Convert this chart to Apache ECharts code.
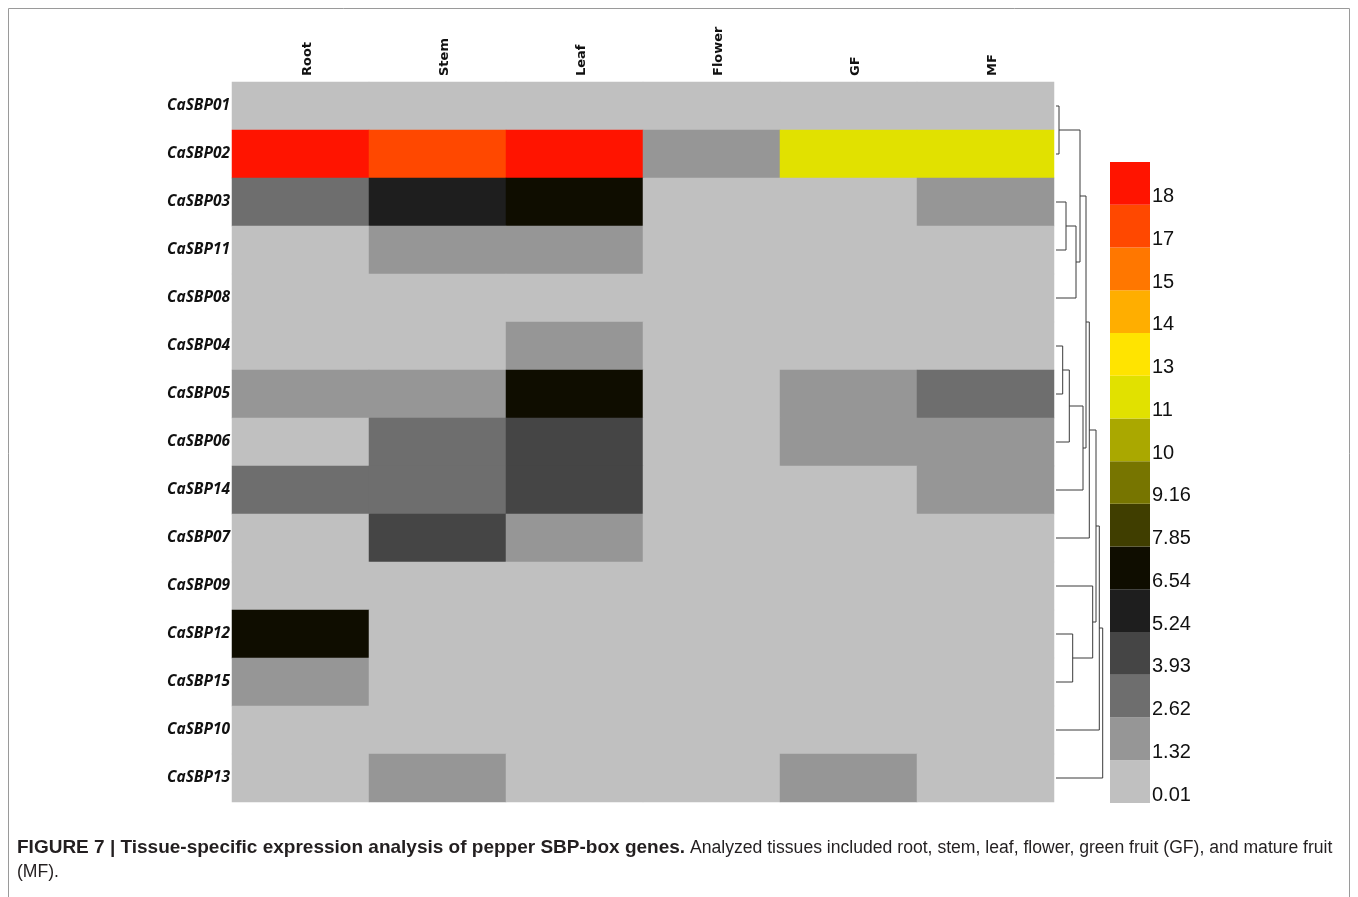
<!DOCTYPE html>
<html>
<head>
<meta charset="utf-8">
<title>Tissue-specific expression of pepper SBP-box genes</title>
<script src="https://cdn.jsdelivr.net/npm/echarts@6/dist/echarts.min.js"></script>
<style>
  html, body { margin: 0; padding: 0; background: #fff; }
  #chart { width: 1358px; height: 897px; }
</style>
</head>
<body>
<div id="chart"></div>
<script>
// tissues (columns) and genes (rows, top to bottom, dendrogram order)
var tissues = ['Root', 'Stem', 'Leaf', 'Flower', 'GF', 'MF']
var genes = ['CaSBP01', 'CaSBP02', 'CaSBP03', 'CaSBP11', 'CaSBP08', 'CaSBP04', 'CaSBP05',
  'CaSBP06', 'CaSBP14', 'CaSBP07', 'CaSBP09', 'CaSBP12', 'CaSBP15', 'CaSBP10', 'CaSBP13']

// expression values, one row per gene, columns follow tissues (estimated from colour bins)
var expression = [
  [0.5, 0.5, 0.6, 0.3, 0.4, 0.5],
  [18.6, 17.4, 18.5, 1.9, 12.1, 11.8],
  [3.1, 5.8, 7.2, 0.4, 0.6, 2.1],
  [0.5, 1.9, 1.8, 0.3, 0.4, 0.5],
  [0.4, 0.6, 0.7, 0.2, 0.3, 0.4],
  [0.6, 0.9, 2.0, 0.3, 0.5, 0.6],
  [1.8, 1.9, 7.1, 0.3, 2.0, 3.2],
  [0.9, 3.3, 4.6, 0.2, 1.7, 1.9],
  [3.0, 3.4, 4.4, 0.3, 0.9, 2.2],
  [0.7, 4.5, 2.1, 0.4, 0.6, 0.8],
  [0.6, 0.3, 0.5, 0.2, 0.4, 0.3],
  [7.0, 0.5, 0.6, 0.2, 0.3, 0.4],
  [2.2, 0.4, 0.5, 0.3, 0.2, 0.3],
  [0.3, 0.2, 0.4, 0.1, 0.2, 0.3],
  [0.8, 1.6, 0.7, 0.3, 1.5, 0.9]
]

// colour key: lower bound of each bin (bottom to top) and its colour
var binLabels = ['0.01', '1.32', '2.62', '3.93', '5.24', '6.54', '7.85', '9.16', '10', '11', '13', '14', '15', '17', '18']
var binBounds = [0.01, 1.32, 2.62, 3.93, 5.24, 6.54, 7.85, 9.16, 10, 11, 13, 14, 15, 17, 18]
var binColors = ['#c0c0c0', '#969696', '#6e6e6e', '#454545', '#1e1e1e', '#0f0d00', '#403e00',
  '#777500', '#aaa800', '#e1e100', '#ffe400', '#ffae00', '#ff7700', '#ff4800', '#ff1400']

// row dendrogram: [child a, child b, height]; leaves are row indexes 0-14, merges numbered from 15
var merges = [
  [0, 1, 3],
  [2, 3, 10],
  [16, 4, 20],
  [15, 17, 24],
  [5, 6, 6.7],
  [19, 7, 13.3],
  [20, 8, 27],
  [18, 21, 30],
  [22, 9, 33.3],
  [11, 12, 16.7],
  [10, 24, 36.7],
  [23, 25, 40],
  [26, 13, 43.3],
  [27, 14, 46.7]
]

var heatData = []
expression.forEach(function(row, y) {
  row.forEach(function(v, x) {
    heatData.push([x, y, v])
  })
})

var pieces = binBounds.map(function(b, i) {
  var p = { gte: i === 0 ? -1 : b, color: binColors[i] }
  if (i < binBounds.length - 1) p.lt = binBounds[i + 1]
  return p
})

// dendrogram link polylines
var nodeY = genes.map(function(g, i) { return i })
var nodeH = genes.map(function() { return 0 })
var links = []
merges.forEach(function(m) {
  var a = m[0]
  var b = m[1]
  var h = m[2]
  links.push({ coords: [[nodeH[a], nodeY[a]], [h, nodeY[a]], [h, nodeY[b]], [nodeH[b], nodeY[b]]] })
  nodeY.push((nodeY[a] + nodeY[b]) / 2)
  nodeH.push(h)
})

var chart = echarts.init(document.getElementById('chart'))
chart.setOption({
  backgroundColor: '#fff',
  animation: false,
  title: {
    left: 12,
    top: 831,
    text: '{b|FIGURE 7 | Tissue-specific expression analysis of pepper SBP-box genes.}{r| Analyzed tissues included root, stem, leaf, flower, green fruit (GF), and mature fruit}\n{r|(MF).}',
    textStyle: {
      rich: {
        b: { fontFamily: 'Liberation Sans', fontSize: 19, fontWeight: 'bold', color: '#231f20', lineHeight: 24 },
        r: { fontFamily: 'Liberation Sans', fontSize: 17.6, fontWeight: 'normal', color: '#231f20', lineHeight: 24 }
      }
    }
  },
  graphic: [{
    type: 'rect',
    shape: { x: 8.5, y: 8.5, width: 1341, height: 900 },
    style: { fill: null, stroke: '#9a9a9a', lineWidth: 1 },
    silent: true
  }],
  grid: [
    { left: 232, top: 82, width: 822, height: 720 },
    { left: 1056, top: 82, width: 47, height: 720 },
    { left: 1110, top: 162, width: 40, height: 641 }
  ],
  xAxis: [{
    type: 'category',
    gridIndex: 0,
    data: tissues,
    position: 'top',
    axisLine: { show: false },
    axisTick: { show: false },
    splitLine: { show: false },
    axisLabel: {
      rotate: -90,
      margin: 6,
      verticalAlign: 'top',
      lineHeight: 14,
      fontFamily: 'DejaVu Sans',
      fontWeight: 'bold',
      fontSize: 13,
      color: '#111'
    }
  }, {
    type: 'value',
    gridIndex: 1,
    min: 0,
    max: 47,
    show: false
  }, {
    type: 'value',
    gridIndex: 2,
    min: 0,
    max: 1,
    show: false
  }],
  yAxis: [{
    type: 'category',
    gridIndex: 0,
    data: genes,
    inverse: true,
    axisLine: { show: false },
    axisTick: { show: false },
    splitLine: { show: false },
    axisLabel: {
      margin: 2,
      fontFamily: 'Open Sans',
      fontWeight: 'bold',
      fontStyle: 'italic',
      fontSize: 15.5,
      color: '#111'
    }
  }, {
    type: 'value',
    gridIndex: 1,
    min: -0.5,
    max: 14.5,
    inverse: true,
    show: false
  }, {
    type: 'value',
    gridIndex: 2,
    position: 'right',
    min: 0,
    max: 15,
    interval: 1,
    axisLine: { show: false },
    axisTick: { show: false },
    splitLine: { show: false },
    axisLabel: {
      margin: 2,
      fontFamily: 'Liberation Sans',
      fontSize: 20,
      color: '#111',
      verticalAlign: 'bottom',
      lineHeight: 16,
      formatter: function(v) { return binLabels[v] || '' }
    }
  }],
  visualMap: {
    type: 'piecewise',
    show: false,
    seriesIndex: 0,
    dimension: 2,
    pieces: pieces
  },
  series: [{
    type: 'heatmap',
    xAxisIndex: 0,
    yAxisIndex: 0,
    data: heatData,
    itemStyle: { borderWidth: 0 },
    emphasis: { disabled: true }
  }, {
    type: 'lines',
    coordinateSystem: 'cartesian2d',
    xAxisIndex: 1,
    yAxisIndex: 1,
    polyline: true,
    silent: true,
    data: links,
    lineStyle: { color: '#3a3a3a', width: 1, opacity: 1 }
  }, {
    type: 'custom',
    xAxisIndex: 2,
    yAxisIndex: 2,
    silent: true,
    data: binColors.map(function(c, i) { return [i] }),
    renderItem: function(params, api) {
      var i = api.value(0)
      var p0 = api.coord([0, i + 1])
      var p1 = api.coord([1, i])
      return {
        type: 'rect',
        shape: { x: p0[0], y: p0[1], width: p1[0] - p0[0], height: p1[1] - p0[1] },
        style: { fill: binColors[i] }
      }
    }
  }]
})
</script>
</body>
</html>
